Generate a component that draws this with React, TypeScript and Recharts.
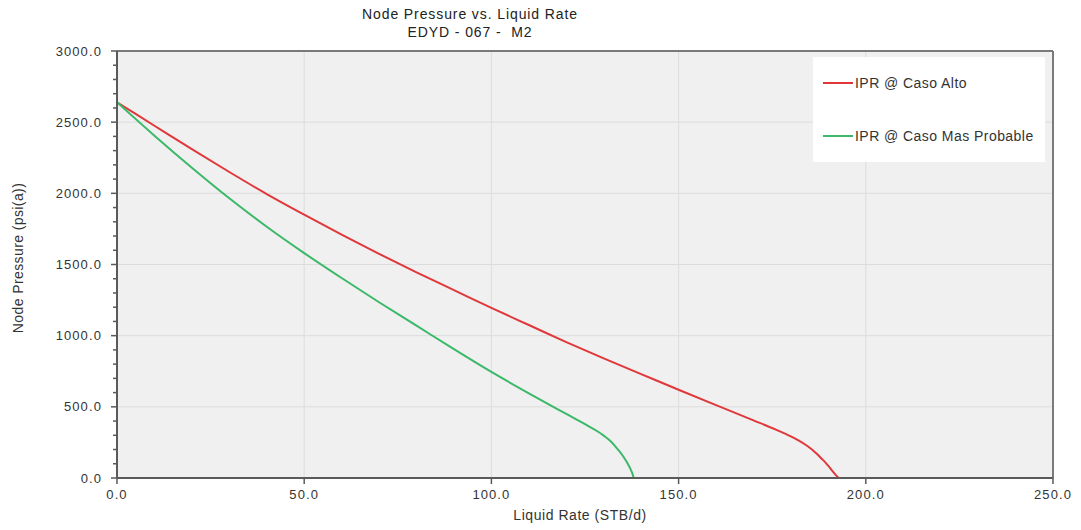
import { LineChart, Line, XAxis, YAxis, CartesianGrid, ReferenceLine } from 'recharts'

const xTicks = [0, 50, 100, 150, 200, 250]
const yTicks = [0, 500, 1000, 1500, 2000, 2500, 3000]
const yMinorTicks = Array.from({ length: 31 }, (_, i) => i * 100)

// IPR @ Caso Alto
const altoRate = [0, 10, 20, 30, 40, 50, 60, 70, 80, 90, 100, 110, 120, 130, 140, 150, 160, 170, 176, 180, 182, 184, 185, 186, 187, 188, 189, 190, 191, 192, 192.8]
const altoPressure = [2640, 2475, 2310, 2150, 1995, 1850, 1710, 1575, 1445, 1320, 1195, 1075, 955, 840, 730, 620, 512, 405, 340, 292, 264, 232, 213, 192, 168, 141, 115, 85, 52, 20, 0]

// IPR @ Caso Mas Probable
const probRate = [0, 10, 20, 30, 40, 50, 60, 70, 80, 90, 100, 110, 120, 125, 128.2, 130, 132, 133.5, 135, 136.2, 137.2, 137.7, 138]
const probPressure = [2640, 2405, 2180, 1965, 1765, 1580, 1405, 1235, 1070, 905, 745, 595, 450, 378, 330, 298, 255, 210, 160, 110, 60, 28, 0]

const alto = altoRate.map((q, i) => ({ q, p: altoPressure[i] }))
const prob = probRate.map((q, i) => ({ q, p: probPressure[i] }))

const FONT = '"Liberation Sans", Arial, sans-serif'
const AXIS = '#5a5a5a'
const RED = '#e0383a'
const GREEN = '#3bb868'

function YTick({ x, y, payload }: any) {
  const major = payload.value % 500 === 0
  return (
    <g>
      <line x1={x} x2={x - (major ? 6 : 4)} y1={y} y2={y} stroke={AXIS} strokeWidth={1.5} />
      {major && (
        <text x={x - 15} y={y} dy={4.5} textAnchor="end" fontSize={13} letterSpacing={1.1} fill="#333" fontFamily={FONT}>
          {payload.value.toFixed(1)}
        </text>
      )}
    </g>
  )
}

function XTick({ x, y, payload }: any) {
  return (
    <g>
      <line x1={x} x2={x} y1={y} y2={y + 6} stroke={AXIS} strokeWidth={1.5} />
      <text x={x} y={y + 21} textAnchor="middle" fontSize={13} letterSpacing={1.1} fill="#333" fontFamily={FONT}>
        {payload.value.toFixed(1)}
      </text>
    </g>
  )
}

const legendItems = [
  { label: 'IPR @ Caso Alto', color: RED, top: 26 },
  { label: 'IPR @ Caso Mas Probable', color: GREEN, top: 79 },
]

export default function App() {
  return (
    <div style={{ position: 'absolute', left: 0, top: 0, width: 1081, height: 530, background: '#fff', fontFamily: FONT }}>
      <div style={{ position: 'absolute', left: 220, width: 500, top: 5, textAlign: 'center', fontSize: 14, lineHeight: '18px', letterSpacing: 0.9, color: '#222' }}>
        Node Pressure vs. Liquid Rate
        <br />
        EDYD - 067 -&nbsp; M2
      </div>
      <LineChart width={1081} height={530} margin={{ top: 51, right: 28, bottom: 22, left: 57 }}>
        <CartesianGrid
          fill="#f0f0f0"
          stroke="#dcdcdc"
          horizontalValues={yTicks}
          verticalValues={xTicks}
        />
        <XAxis
          type="number"
          dataKey="q"
          domain={[0, 250]}
          ticks={xTicks}
          tick={<XTick />}
          tickLine={false}
          tickSize={0}
          tickMargin={0}
          axisLine={{ stroke: AXIS, strokeWidth: 2 }}
          height={30}
          allowDataOverflow
        />
        <YAxis
          type="number"
          dataKey="p"
          domain={[0, 3000]}
          ticks={yMinorTicks}
          tick={<YTick />}
          tickLine={false}
          tickSize={0}
          tickMargin={0}
          axisLine={{ stroke: AXIS, strokeWidth: 2 }}
          width={60}
          interval={0}
          allowDataOverflow
        />
        <ReferenceLine y={3000} stroke="#7a7a7a" strokeWidth={2} />
        <ReferenceLine x={250} stroke="#7a7a7a" strokeWidth={2} />
        <Line data={alto} dataKey="p" name="IPR @ Caso Alto" type="monotone" stroke={RED} strokeWidth={2} dot={false} isAnimationActive={false} />
        <Line data={prob} dataKey="p" name="IPR @ Caso Mas Probable" type="monotone" stroke={GREEN} strokeWidth={2} dot={false} isAnimationActive={false} />
      </LineChart>
      <div style={{ position: 'absolute', left: 813, top: 57, width: 232, height: 105, background: '#fff' }}>
        {legendItems.map((it) => (
          <div key={it.label} style={{ position: 'absolute', left: 10, top: it.top - 9, height: 18, display: 'flex', alignItems: 'center', whiteSpace: 'nowrap' }}>
            <span style={{ display: 'inline-block', width: 30, height: 2, background: it.color }} />
            <span style={{ fontSize: 14, letterSpacing: 0.45, color: '#333', marginLeft: 2 }}>{it.label}</span>
          </div>
        ))}
      </div>
      <div style={{ position: 'absolute', left: 0, width: 1160, top: 507, textAlign: 'center', fontSize: 14, letterSpacing: 0.55, color: '#333' }}>
        Liquid Rate (STB/d)
      </div>
      <div
        style={{
          position: 'absolute',
          left: 18,
          top: 258,
          transform: 'translate(-50%, -50%) rotate(-90deg)',
          whiteSpace: 'nowrap',
          fontSize: 14,
          letterSpacing: 0.4,
          color: '#333',
        }}
      >
        Node Pressure (psi(a))
      </div>
    </div>
  )
}
